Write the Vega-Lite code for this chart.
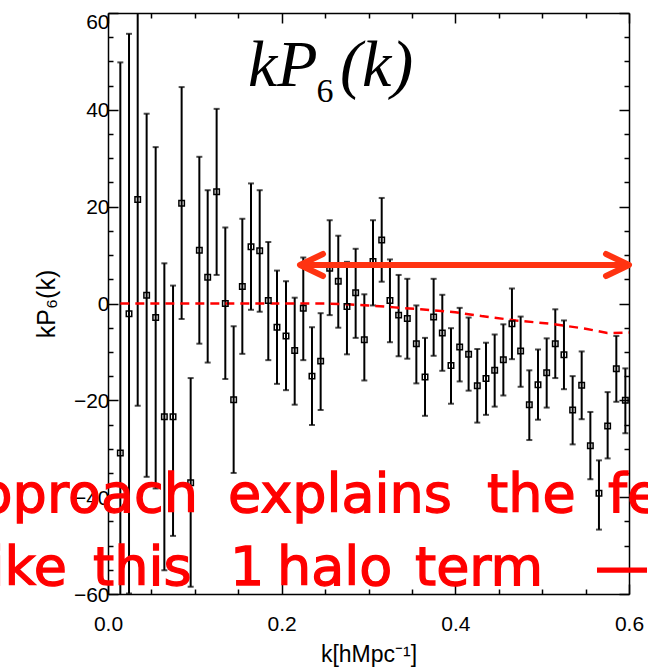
{
  "$schema": "https://vega.github.io/schema/vega-lite/v6.json",
  "autosize": "none",
  "width": 521,
  "height": 581,
  "padding": {"left": 108, "top": 13, "right": 19, "bottom": 73},
  "background": "white",
  "config": {"view": {"stroke": null}},
  "datasets": {
    "pts": [
      {"k": 0.0142, "v": -30.9, "lo": -111.0, "hi": 49.8},
      {"k": 0.0242, "v": -2.1, "lo": -59.9, "hi": 55.7},
      {"k": 0.0342, "v": 21.5, "lo": -21.1, "hi": 64.1},
      {"k": 0.0445, "v": 1.7, "lo": -35.8, "hi": 39.2},
      {"k": 0.0549, "v": -2.9, "lo": -38.2, "hi": 32.3},
      {"k": 0.0649, "v": -23.4, "lo": -55.1, "hi": 8.3},
      {"k": 0.0749, "v": -23.4, "lo": -48.0, "hi": 3.7},
      {"k": 0.0848, "v": 20.7, "lo": -3.2, "hi": 44.7},
      {"k": 0.0952, "v": -37.0, "lo": -58.5, "hi": -15.4},
      {"k": 0.1052, "v": 11.0, "lo": -8.3, "hi": 30.3},
      {"k": 0.1148, "v": 5.4, "lo": -12.2, "hi": 23.4},
      {"k": 0.1251, "v": 23.1, "lo": 5.9, "hi": 40.2},
      {"k": 0.1351, "v": 0.0, "lo": -15.6, "hi": 15.7},
      {"k": 0.1447, "v": -19.9, "lo": -35.0, "hi": -4.7},
      {"k": 0.1547, "v": 3.5, "lo": -10.4, "hi": 17.5},
      {"k": 0.1647, "v": 11.7, "lo": -1.3, "hi": 24.8},
      {"k": 0.1747, "v": 10.9, "lo": -1.7, "hi": 23.4},
      {"k": 0.1846, "v": 0.6, "lo": -11.7, "hi": 12.7},
      {"k": 0.1946, "v": -4.9, "lo": -16.6, "hi": 6.8},
      {"k": 0.2050, "v": -6.7, "lo": -17.9, "hi": 4.6},
      {"k": 0.2150, "v": -9.7, "lo": -20.9, "hi": 1.2},
      {"k": 0.2249, "v": -1.0, "lo": -11.7, "hi": 9.5},
      {"k": 0.2349, "v": -15.0, "lo": -25.1, "hi": -4.9},
      {"k": 0.2449, "v": -11.9, "lo": -22.0, "hi": -2.0},
      {"k": 0.2553, "v": 7.3, "lo": -2.4, "hi": 17.2},
      {"k": 0.2652, "v": 4.6, "lo": -5.0, "hi": 14.0},
      {"k": 0.2752, "v": -0.6, "lo": -10.5, "hi": 8.6},
      {"k": 0.2852, "v": 2.2, "lo": -7.1, "hi": 11.3},
      {"k": 0.2952, "v": -7.5, "lo": -15.9, "hi": 1.9},
      {"k": 0.3052, "v": 8.7, "lo": -0.4, "hi": 17.2},
      {"k": 0.3152, "v": 13.1, "lo": 4.5, "hi": 21.8},
      {"k": 0.3247, "v": 0.6, "lo": -8.0, "hi": 9.1},
      {"k": 0.3347, "v": -2.4, "lo": -10.9, "hi": 5.9},
      {"k": 0.3447, "v": -3.1, "lo": -11.4, "hi": 5.1},
      {"k": 0.3551, "v": -8.3, "lo": -16.5, "hi": -0.4},
      {"k": 0.3651, "v": -15.2, "lo": -23.2, "hi": -7.1},
      {"k": 0.3750, "v": -2.8, "lo": -10.8, "hi": 5.1},
      {"k": 0.3850, "v": -6.1, "lo": -13.9, "hi": 1.8},
      {"k": 0.3950, "v": -12.8, "lo": -20.7, "hi": -5.1},
      {"k": 0.4050, "v": -9.0, "lo": -16.1, "hi": -0.9},
      {"k": 0.4153, "v": -10.5, "lo": -18.0, "hi": -2.9},
      {"k": 0.4253, "v": -17.0, "lo": -24.6, "hi": -9.4},
      {"k": 0.4353, "v": -15.5, "lo": -23.0, "hi": -8.1},
      {"k": 0.4453, "v": -13.8, "lo": -21.3, "hi": -6.4},
      {"k": 0.4553, "v": -11.6, "lo": -19.0, "hi": -4.3},
      {"k": 0.4652, "v": -4.2, "lo": -11.5, "hi": 3.1},
      {"k": 0.4752, "v": -9.8, "lo": -17.2, "hi": -2.7},
      {"k": 0.4852, "v": -20.9, "lo": -28.2, "hi": -13.8},
      {"k": 0.4952, "v": -16.8, "lo": -24.0, "hi": -9.5},
      {"k": 0.5052, "v": -14.3, "lo": -21.5, "hi": -7.2},
      {"k": 0.5151, "v": -8.3, "lo": -15.4, "hi": -1.2},
      {"k": 0.5251, "v": -10.6, "lo": -17.7, "hi": -3.5},
      {"k": 0.5351, "v": -22.0, "lo": -29.1, "hi": -15.0},
      {"k": 0.5455, "v": -16.9, "lo": -23.9, "hi": -9.9},
      {"k": 0.5555, "v": -29.4, "lo": -36.3, "hi": -22.4},
      {"k": 0.5654, "v": -39.2, "lo": -46.7, "hi": -32.4},
      {"k": 0.5754, "v": -25.3, "lo": -32.0, "hi": -18.3},
      {"k": 0.5854, "v": -13.5, "lo": -20.3, "hi": -6.7},
      {"k": 0.5958, "v": -20.0, "lo": -26.8, "hi": -13.4}
    ],
    "model": [
      {"k": 0.0142, "v": 0.0},
      {"k": 0.25, "v": 0.0},
      {"k": 0.28, "v": -0.2},
      {"k": 0.30, "v": -0.4},
      {"k": 0.33, "v": -0.8},
      {"k": 0.36, "v": -1.2},
      {"k": 0.40, "v": -1.8},
      {"k": 0.43, "v": -2.6},
      {"k": 0.47, "v": -3.5},
      {"k": 0.51, "v": -4.2},
      {"k": 0.55, "v": -5.2},
      {"k": 0.575, "v": -6.1},
      {"k": 0.6, "v": -6.0}
    ],
    "one": [{}]
  },
  "resolve": {"axis": {"x": "independent", "y": "independent"}},
  "layer": [
    {
      "data": {"name": "pts"},
      "mark": {"type": "rule", "color": "black", "strokeWidth": 2, "clip": true},
      "encoding": {
        "x": {"field": "k", "type": "quantitative",
          "scale": {"domain": [0, 0.6], "nice": false, "zero": false},
          "axis": {"orient": "bottom", "grid": false,
            "values": [0, 0.05, 0.1, 0.15, 0.2, 0.25, 0.3, 0.35, 0.4, 0.45, 0.5, 0.55, 0.6],
            "format": ".1f",
            "labelExpr": "round(datum.value*100) % 20 == 0 ? datum.label : ''",
            "tickSize": {"condition": {"test": "round(datum.value*100) % 20 == 0", "value": -10}, "value": -5},
            "domainColor": "black", "domainWidth": 1.5, "tickColor": "black", "tickWidth": 1.5,
            "labelFont": "Liberation Sans", "labelFontSize": 21, "labelColor": "black", "labelPadding": 29,
            "labelFlush": false, "labelOverlap": false,
            "title": "k[hMpc⁻¹]", "titleFont": "Liberation Sans", "titleFontSize": 23,
            "titleFontWeight": "normal", "titleColor": "black", "titlePadding": 4}},
        "y": {"field": "lo", "type": "quantitative",
          "scale": {"domain": [-60, 60], "nice": false, "zero": false},
          "axis": {"orient": "left", "grid": false,
            "values": [-60, -55, -50, -45, -40, -35, -30, -25, -20, -15, -10, -5, 0, 5, 10, 15, 20, 25, 30, 35, 40, 45, 50, 55, 60],
            "labelExpr": "datum.value % 20 == 0 ? datum.label : ''",
            "tickSize": {"condition": {"test": "datum.value % 20 == 0", "value": -10}, "value": -5},
            "labelOffset": {"condition": {"test": "datum.value == 60", "value": 9}, "value": 1},
            "domainColor": "black", "domainWidth": 1.5, "tickColor": "black", "tickWidth": 1.5,
            "labelFont": "Liberation Sans", "labelFontSize": 21, "labelColor": "black", "labelPadding": 9,
            "labelFlush": false, "labelOverlap": false,
            "title": "kP₆(k)", "titleFont": "Liberation Sans", "titleFontSize": 25,
            "titleFontWeight": "normal", "titleColor": "black", "titlePadding": 14}},
        "y2": {"field": "hi"}
      }
    },
    {
      "data": {"name": "pts"},
      "mark": {"type": "tick", "orient": "horizontal", "color": "black", "size": 6, "thickness": 2, "clip": true},
      "encoding": {
        "x": {"field": "k", "type": "quantitative", "axis": null},
        "y": {"field": "lo", "type": "quantitative", "axis": null}
      }
    },
    {
      "data": {"name": "pts"},
      "mark": {"type": "tick", "orient": "horizontal", "color": "black", "size": 6, "thickness": 2, "clip": true},
      "encoding": {
        "x": {"field": "k", "type": "quantitative", "axis": null},
        "y": {"field": "hi", "type": "quantitative", "axis": null}
      }
    },
    {
      "data": {"name": "model"},
      "mark": {"type": "line", "color": "#ff0000", "strokeWidth": 2.5, "strokeDash": [9, 6], "clip": true},
      "encoding": {
        "x": {"field": "k", "type": "quantitative",
          "axis": {"orient": "top", "grid": false, "labels": false, "title": null,
            "values": [0, 0.05, 0.1, 0.15, 0.2, 0.25, 0.3, 0.35, 0.4, 0.45, 0.5, 0.55, 0.6],
            "tickSize": {"condition": {"test": "round(datum.value*100) % 20 == 0", "value": -10}, "value": -5},
            "domainColor": "black", "domainWidth": 1.5, "tickColor": "black", "tickWidth": 1.5}},
        "y": {"field": "v", "type": "quantitative",
          "axis": {"orient": "right", "grid": false, "labels": false, "title": null,
            "values": [-60, -55, -50, -45, -40, -35, -30, -25, -20, -15, -10, -5, 0, 5, 10, 15, 20, 25, 30, 35, 40, 45, 50, 55, 60],
            "tickSize": {"condition": {"test": "datum.value % 20 == 0", "value": -10}, "value": -5},
            "domainColor": "black", "domainWidth": 1.5, "tickColor": "black", "tickWidth": 1.5}}
      }
    },
    {
      "data": {"name": "pts"},
      "mark": {"type": "point", "shape": "square", "size": 30, "filled": false, "stroke": "black", "strokeWidth": 1.5, "opacity": 1, "clip": true},
      "encoding": {
        "x": {"field": "k", "type": "quantitative", "axis": null},
        "y": {"field": "v", "type": "quantitative", "axis": null}
      }
    },
    {
      "data": {"name": "one"},
      "mark": {"type": "rule", "color": "#ff3311", "strokeWidth": 6},
      "encoding": {
        "x": {"datum": 0.2211, "type": "quantitative", "axis": null},
        "x2": {"datum": 0.6},
        "y": {"datum": 7.95, "type": "quantitative", "axis": null}
      }
    },
    {
      "data": {"name": "one"},
      "mark": {"type": "point", "shape": "M1,-0.48L0,0L1,0.48", "size": 2116, "filled": false, "stroke": "#ff3311", "strokeWidth": 6, "strokeCap": "round", "strokeJoin": "round", "opacity": 1},
      "encoding": {
        "x": {"datum": 0.2211, "type": "quantitative", "axis": null},
        "y": {"datum": 7.95, "type": "quantitative", "axis": null}
      }
    },
    {
      "data": {"name": "one"},
      "mark": {"type": "point", "shape": "M-1,-0.48L0,0L-1,0.48", "size": 2116, "filled": false, "stroke": "#ff3311", "strokeWidth": 6, "strokeCap": "round", "strokeJoin": "round", "opacity": 1},
      "encoding": {
        "x": {"datum": 0.6, "type": "quantitative", "axis": null},
        "y": {"datum": 7.95, "type": "quantitative", "axis": null}
      }
    },
    {
      "data": {"name": "one"},
      "mark": {"type": "text", "text": "kP", "font": "Liberation Serif", "fontStyle": "italic", "fontSize": 66, "align": "left", "baseline": "alphabetic", "color": "black"},
      "encoding": {
        "x": {"datum": 0.1612, "type": "quantitative", "axis": null},
        "y": {"datum": 44.9, "type": "quantitative", "axis": null}
      }
    },
    {
      "data": {"name": "one"},
      "mark": {"type": "text", "text": "6", "font": "Liberation Serif", "fontSize": 34, "align": "left", "baseline": "alphabetic", "color": "black"},
      "encoding": {
        "x": {"datum": 0.2400, "type": "quantitative", "axis": null},
        "y": {"datum": 41.6, "type": "quantitative", "axis": null}
      }
    },
    {
      "data": {"name": "one"},
      "mark": {"type": "text", "text": "(k)", "font": "Liberation Serif", "fontStyle": "italic", "fontSize": 66, "align": "left", "baseline": "alphabetic", "color": "black"},
      "encoding": {
        "x": {"datum": 0.2672, "type": "quantitative", "axis": null},
        "y": {"datum": 44.9, "type": "quantitative", "axis": null}
      }
    },
    {
      "data": {"name": "one"},
      "mark": {"type": "text", "text": "approach", "font": "DejaVu Sans", "fontSize": 54, "align": "right", "baseline": "alphabetic", "color": "#ff0000", "stroke": "#ff0000", "strokeWidth": 1.3},
      "encoding": {
        "x": {"datum": 0.1036, "type": "quantitative", "axis": null},
        "y": {"datum": -43.06, "type": "quantitative", "axis": null}
      }
    },
    {
      "data": {"name": "one"},
      "mark": {"type": "text", "text": "explains", "font": "DejaVu Sans", "fontSize": 54, "align": "left", "baseline": "alphabetic", "color": "#ff0000", "stroke": "#ff0000", "strokeWidth": 1.3},
      "encoding": {
        "x": {"datum": 0.1382, "type": "quantitative", "axis": null},
        "y": {"datum": -43.06, "type": "quantitative", "axis": null}
      }
    },
    {
      "data": {"name": "one"},
      "mark": {"type": "text", "text": "the", "font": "DejaVu Sans", "fontSize": 54, "align": "left", "baseline": "alphabetic", "color": "#ff0000", "stroke": "#ff0000", "strokeWidth": 1.3},
      "encoding": {
        "x": {"datum": 0.4365, "type": "quantitative", "axis": null},
        "y": {"datum": -43.06, "type": "quantitative", "axis": null}
      }
    },
    {
      "data": {"name": "one"},
      "mark": {"type": "text", "text": "features", "font": "DejaVu Sans", "fontSize": 54, "align": "left", "baseline": "alphabetic", "color": "#ff0000", "stroke": "#ff0000", "strokeWidth": 1.3},
      "encoding": {
        "x": {"datum": 0.5758, "type": "quantitative", "axis": null},
        "y": {"datum": -43.06, "type": "quantitative", "axis": null}
      }
    },
    {
      "data": {"name": "one"},
      "mark": {"type": "text", "text": "like", "font": "DejaVu Sans", "fontSize": 54, "align": "right", "baseline": "alphabetic", "color": "#ff0000", "stroke": "#ff0000", "strokeWidth": 1.3},
      "encoding": {
        "x": {"datum": -0.0472, "type": "quantitative", "axis": null},
        "y": {"datum": -58.14, "type": "quantitative", "axis": null}
      }
    },
    {
      "data": {"name": "one"},
      "mark": {"type": "text", "text": "this", "font": "DejaVu Sans", "fontSize": 54, "align": "left", "baseline": "alphabetic", "color": "#ff0000", "stroke": "#ff0000", "strokeWidth": 1.3},
      "encoding": {
        "x": {"datum": -0.0173, "type": "quantitative", "axis": null},
        "y": {"datum": -58.14, "type": "quantitative", "axis": null}
      }
    },
    {
      "data": {"name": "one"},
      "mark": {"type": "text", "text": "1", "font": "DejaVu Sans", "fontSize": 54, "align": "left", "baseline": "alphabetic", "color": "#ff0000", "stroke": "#ff0000", "strokeWidth": 1.3},
      "encoding": {
        "x": {"datum": 0.1405, "type": "quantitative", "axis": null},
        "y": {"datum": -58.14, "type": "quantitative", "axis": null}
      }
    },
    {
      "data": {"name": "one"},
      "mark": {"type": "text", "text": "halo", "font": "DejaVu Sans", "fontSize": 54, "align": "left", "baseline": "alphabetic", "color": "#ff0000", "stroke": "#ff0000", "strokeWidth": 1.3},
      "encoding": {
        "x": {"datum": 0.1946, "type": "quantitative", "axis": null},
        "y": {"datum": -58.14, "type": "quantitative", "axis": null}
      }
    },
    {
      "data": {"name": "one"},
      "mark": {"type": "text", "text": "term", "font": "DejaVu Sans", "fontSize": 54, "align": "left", "baseline": "alphabetic", "color": "#ff0000", "stroke": "#ff0000", "strokeWidth": 1.3},
      "encoding": {
        "x": {"datum": 0.3535, "type": "quantitative", "axis": null},
        "y": {"datum": -58.14, "type": "quantitative", "axis": null}
      }
    },
    {
      "data": {"name": "one"},
      "mark": {"type": "text", "text": "——", "font": "DejaVu Sans", "fontSize": 54, "align": "left", "baseline": "alphabetic", "color": "#ff0000", "stroke": "#ff0000", "strokeWidth": 1.3},
      "encoding": {
        "x": {"datum": 0.5608, "type": "quantitative", "axis": null},
        "y": {"datum": -58.14, "type": "quantitative", "axis": null}
      }
    }
  ]
}
